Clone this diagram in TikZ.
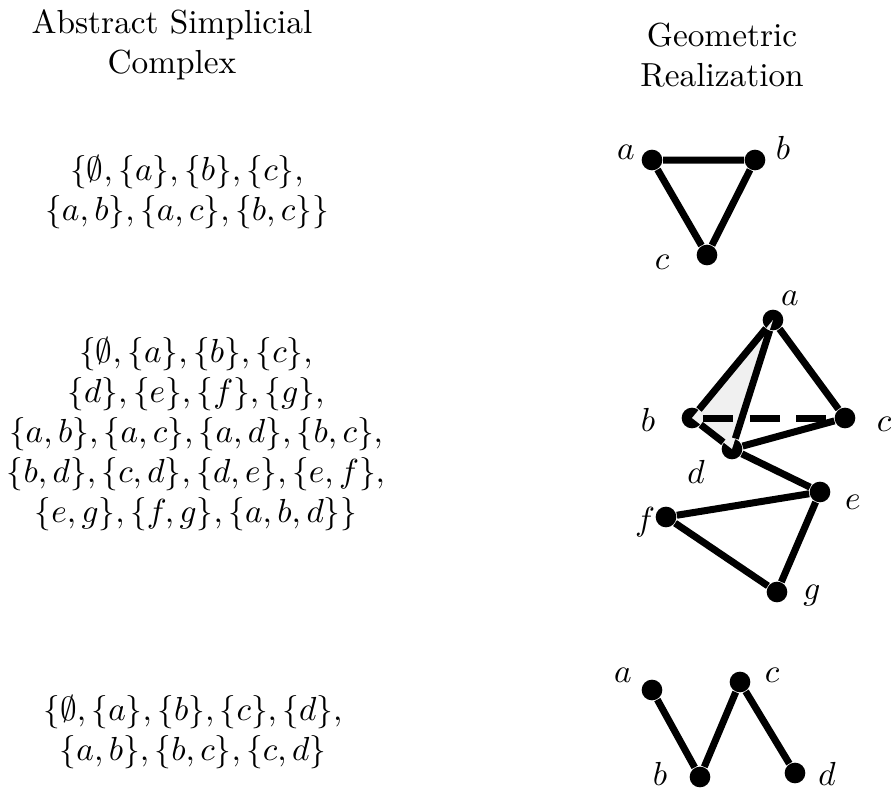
\documentclass[tikz,border=0pt]{standalone}
\usepackage{amsmath, amssymb}
\usetikzlibrary{positioning}

\begin{document}
\begin{tikzpicture}[x=0.3pt, y=-0.3pt,
    vtx/.style={circle, fill=black, inner sep=0pt, minimum size=6.2pt},
    edge/.style={line width=2.1pt},
    txt/.style={align=center, inner sep=0pt}]
  \useasboundingbox (0,0) rectangle (896,788);
  % Headings
  \node[txt] (hleft) at (172,45) {Abstract Simplicial\\Complex};
  \node[txt] (hright) at (722,55) {Geometric\\Realization};
  % Abstract complexes
  \node[txt] (set1) at (187,192) {$\{\emptyset, \{a\}, \{b\}, \{c\},$\\
    $\{a,b\}, \{a,c\}, \{b,c\}\}$};
  \node[txt] (set2) at (196,434) {$\{\emptyset, \{a\}, \{b\}, \{c\},$\\
    $\{d\}, \{e\}, \{f\}, \{g\},$\\
    $\{a,b\}, \{a,c\}, \{a,d\}, \{b,c\},$\\
    $\{b,d\}, \{c,d\}, \{d,e\}, \{e,f\},$\\
    $\{e,g\}, \{f,g\}, \{a,b,d\}\}$};
  \node[txt] (set3) at (193,732) {$\{\emptyset, \{a\}, \{b\}, \{c\}, \{d\},$\\
    $\{a,b\}, \{b,c\}, \{c,d\}$};
  % Triangle
  \node[vtx] (pa) at (652,160) {};
  \node[vtx] (pb) at (755,160) {};
  \node[vtx] (pc) at (707,255) {};
  \node (la1) at (626,152) {$a$};
  \node (lb1) at (783,148) {$b$};
  \node (lc1) at (662,262) {$c$};
  \draw[edge] (pa) -- (pb) -- (pc) -- (pa);
  % Tetrahedron face and zigzag
  \node[vtx] (qa) at (773,320) {};
  \node[vtx] (qb) at (692,418) {};
  \node[vtx] (qc) at (845,418) {};
  \node[vtx] (qd) at (732,449) {};
  \node[vtx] (qe) at (820,492) {};
  \node[vtx] (qf) at (666,517) {};
  \node[vtx] (qg) at (777,592) {};
  \node (la2) at (790,298) {$a$};
  \node (lb2) at (648,420) {$b$};
  \node (lc2) at (884,424) {$c$};
  \node (ld2) at (696,472) {$d$};
  \node (le2) at (853,502) {$e$};
  \node (lf2) at (645,522) {$f$};
  \node (lg2) at (812,596) {$g$};
  \fill[gray!12] (qa.center) -- (qb.center) -- (qd.center) -- cycle;
  \draw[edge, dash pattern=on 9pt off 5pt] (qb) -- (qc);
  \foreach \u/\v in {a/b, a/c, a/d, b/d, c/d, d/e, e/f, e/g, f/g} {
    \draw[edge] (q\u) -- (q\v);
  }
  % Path
  \node[vtx] (ra) at (652,690) {};
  \node[vtx] (rb) at (700,777) {};
  \node[vtx] (rc) at (740,682) {};
  \node[vtx] (rd) at (795,773) {};
  \node (la3) at (623,675) {$a$};
  \node (lb3) at (660,774) {$b$};
  \node (lc3) at (772,675) {$c$};
  \node (ld3) at (827,774) {$d$};
  \draw[edge] (ra) -- (rb) -- (rc) -- (rd);
\end{tikzpicture}
\end{document}
